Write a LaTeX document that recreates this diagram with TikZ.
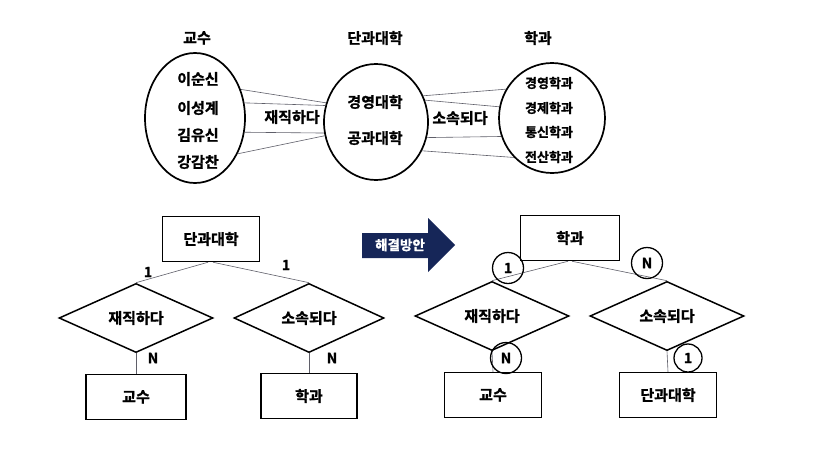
\documentclass[tikz,border=0pt]{standalone}
\usepackage{fontspec}
\setmainfont{Noto Sans CJK KR}[BoldFont={Noto Sans CJK KR Bold}, BoldFeatures={FakeBold=1.2}]
\usetikzlibrary{shapes.geometric}
\definecolor{navy}{RGB}{22,38,88}
\definecolor{linegray}{RGB}{95,95,105}
\begin{document}
\begin{tikzpicture}[x=1pt,y=-1pt,
  oval/.style={draw, ellipse, line width=1.7pt, inner sep=0pt},
  link/.style={draw=linegray, line width=0.6pt},
  lbl/.style={font=\fontsize{15}{15}\selectfont\bfseries, inner sep=0pt},
  sml/.style={font=\fontsize{13}{13}\selectfont\bfseries, inner sep=0pt},
  ent/.style={draw, line width=1.5pt, minimum width=97pt, minimum height=45pt, inner sep=0pt, font=\fontsize{15}{15}\selectfont\bfseries},
  rel/.style={draw, diamond, line width=1.5pt, minimum width=154pt, minimum height=45pt, inner sep=0pt, font=\fontsize{15}{15}\selectfont\bfseries},
  card/.style={font=\fontsize{14}{14}\selectfont\bfseries, inner sep=0pt},
  ring/.style={draw, circle, line width=1.3pt, minimum size=31pt, inner sep=0pt, font=\fontsize{14}{14}\selectfont\bfseries}
]
\useasboundingbox (0,0) rectangle (835,450);
\fill[white] (0,0) rectangle (835,450);

% ---------- top: instance diagram ----------
\node[lbl] (tL) at (197,38) {교수};
\node[lbl] (tM) at (375,38) {단과대학};
\node[lbl] (tR) at (538,38) {학과};

\node[oval, minimum width=100pt, minimum height=130pt] (L) at (195,118) {};
\node[oval, minimum width=104pt, minimum height=116pt] (M) at (376,122) {};
\node[oval, minimum width=106pt, minimum height=110pt] (R) at (552,118) {};

\node[lbl] (l1) at (198,79) {이순신};
\node[lbl] (l2) at (198,108) {이성계};
\node[lbl] (l3) at (198,135) {김유신};
\node[lbl] (l4) at (198,162) {강감찬};

\node[lbl] (m1) at (375,102) {경영대학};
\node[lbl] (m2) at (375,138) {공과대학};

\node[sml] (r1) at (549,83) {경영학과};
\node[sml] (r2) at (549,108) {경제학과};
\node[sml] (r3) at (549,132) {통신학과};
\node[sml] (r4) at (549,157) {전산학과};

\node[lbl] (w1) at (292,117) {재직하다};
\node[lbl] (w2) at (460,118) {소속되다};

\draw[link] (L.32) -- (M.159);
\draw[link] (L.17) -- (M.162);
\draw[link] (L.-16) -- (M.192);
\draw[link] (L.-40) -- (M.195);

\draw[link] (M.29) -- (R.148);
\draw[link] (M.24) -- (R.168);
\draw[link] (M.-17) -- (R.200);
\draw[link] (M.-32) -- (R.226);

% ---------- bottom left: original ER ----------
\node[ent] (c1) at (211,239) {단과대학};
\node[rel] (d1) at (136,318) {재직하다};
\node[rel, minimum width=150pt] (d2) at (309,318) {소속되다};
\node[ent, minimum width=100pt] (p1) at (136,397) {교수};
\node[ent, minimum width=96pt] (h1) at (309,396) {학과};

\draw[link] ([xshift=-3pt]c1.south) -- (d1.north);
\draw[link] ([xshift=2pt]c1.south) -- (d2.north);
\draw[link] (d1.south) -- (p1.north);
\draw[link] (d2.south) -- (h1.north);

\node[card] (k1) at (148,272) {1};
\node[card] (k2) at (286,265) {1};
\node[card] (k3) at (153,358) {N};
\node[card] (k4) at (332,358) {N};

% ---------- arrow ----------
\fill[navy] (362,233) -- (428,233) -- (428,218) -- (455,245) -- (428,272) -- (428,258) -- (362,258) -- cycle;
\node[font=\fontsize{13.5}{13.5}\selectfont\bfseries, text=white, inner sep=0pt] (sol) at (400,245) {해결방안};

% ---------- bottom right: solution ER ----------
\node[ent, minimum width=99pt] (h2) at (570,238) {학과};
\node[rel] (d3) at (492,316) {재직하다};
\node[rel] (d4) at (667,316) {소속되다};
\node[ent] (p2) at (493,395) {교수};
\node[ent] (c2) at (668,395) {단과대학};

\draw[link] ([xshift=-2pt]h2.south) -- (d3.north);
\draw[link] ([xshift=2pt]h2.south) -- (d4.north);
\draw[link] (d3.south) -- (p2.north);
\draw[link] (d4.south) -- (c2.north);

\node[ring] (q1) at (508,268) {1};
\node[ring] (q2) at (647,263) {N};
\node[ring] (q3) at (506,358) {N};
\node[ring, minimum size=28pt] (q4) at (688,358) {1};
\end{tikzpicture}
\end{document}
